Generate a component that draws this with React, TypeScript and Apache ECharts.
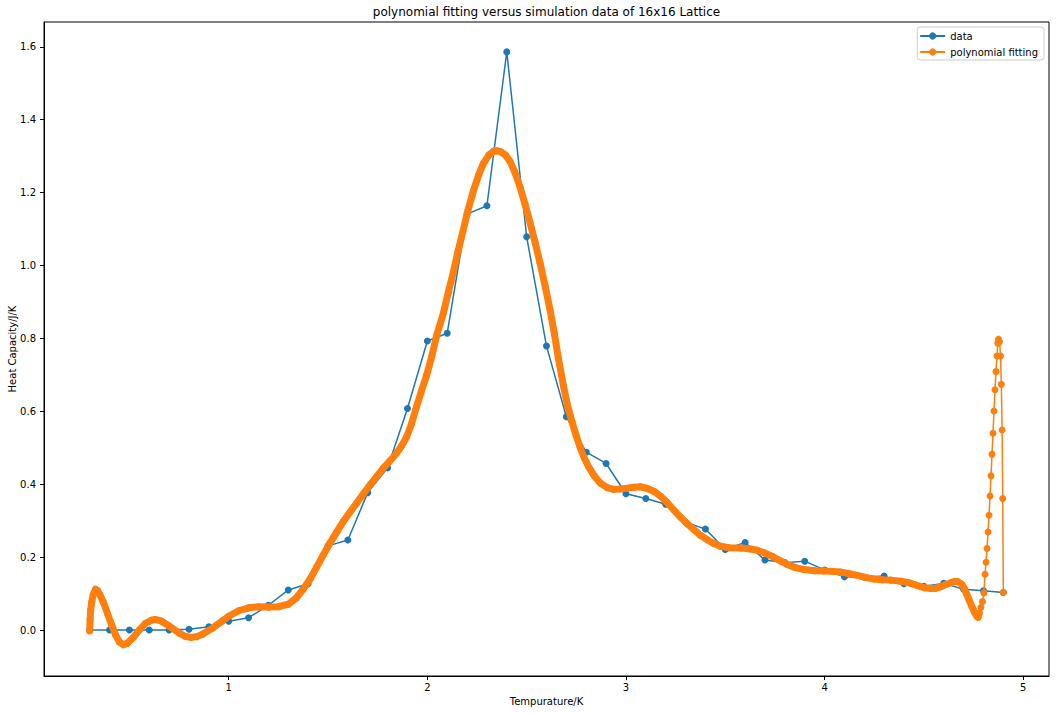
import React, { useEffect, useRef } from "react";
import * as echarts from "echarts";

const dataX = [0.3, 0.4, 0.5, 0.6, 0.7, 0.8, 0.9, 1.0, 1.1, 1.2, 1.3, 1.4, 1.5, 1.6, 1.7, 1.8, 1.9, 2.0, 2.1, 2.2, 2.3, 2.4, 2.5, 2.6, 2.7, 2.8, 2.9, 3.0, 3.1, 3.2, 3.3, 3.4, 3.5, 3.6, 3.7, 3.8, 3.9, 4.0, 4.1, 4.2, 4.3, 4.4, 4.5, 4.6, 4.7, 4.8, 4.9];
const dataY = [0.0, 0.0, 0.0, 0.0, 0.0, 0.002, 0.009, 0.024, 0.034, 0.068, 0.110, 0.127, 0.231, 0.247, 0.377, 0.445, 0.608, 0.793, 0.814, 1.141, 1.164, 1.586, 1.079, 0.779, 0.585, 0.488, 0.457, 0.374, 0.361, 0.345, 0.296, 0.277, 0.221, 0.240, 0.192, 0.185, 0.189, 0.165, 0.146, 0.145, 0.148, 0.127, 0.120, 0.128, 0.112, 0.108, 0.103];

const fitX = [
  0.300, 0.302, 0.305, 0.310, 0.318, 0.330, 0.340, 0.350, 0.370, 0.390, 0.410, 0.430, 0.450, 0.470, 0.490, 0.520, 0.550, 0.580, 0.610, 0.630,
  0.660, 0.700, 0.750, 0.780, 0.810, 0.840, 0.870, 0.920, 0.970, 1.000, 1.050, 1.100, 1.150, 1.200, 1.250, 1.300, 1.340, 1.375, 1.410, 1.442,
  1.475, 1.509, 1.545, 1.576, 1.610, 1.644, 1.680, 1.711, 1.745, 1.778, 1.810, 1.845, 1.870, 1.896, 1.920, 1.946, 1.970, 1.997, 2.022, 2.047,
  2.081, 2.105, 2.131, 2.155, 2.181, 2.205, 2.232, 2.258, 2.282, 2.310, 2.335, 2.350, 2.370, 2.395, 2.417, 2.440, 2.467, 2.492, 2.518, 2.543,
  2.568, 2.593, 2.618, 2.640, 2.660, 2.686, 2.705, 2.728, 2.750, 2.770, 2.790, 2.812, 2.840, 2.871, 2.905, 2.938, 2.970, 3.005, 3.040, 3.073,
  3.105, 3.140, 3.175, 3.207, 3.240, 3.274, 3.310, 3.341, 3.375, 3.409, 3.440, 3.476, 3.520, 3.577, 3.620, 3.661, 3.700, 3.740, 3.780, 3.812,
  3.850, 3.896, 3.950, 3.997, 4.040, 4.081, 4.120, 4.165, 4.210, 4.249, 4.290, 4.333, 4.384, 4.430, 4.468, 4.505, 4.535, 4.560, 4.586, 4.610,
  4.636, 4.655, 4.670, 4.690, 4.704, 4.716, 4.728, 4.742, 4.754, 4.765, 4.773,
  4.779, 4.787, 4.795, 4.802, 4.808, 4.813, 4.818, 4.823, 4.828, 4.833, 4.838, 4.843, 4.848, 4.853, 4.858, 4.863, 4.868, 4.872, 4.876, 4.881,
  4.886, 4.890, 4.894, 4.897, 4.900
];
const fitY = [
  -0.002, 0.029, 0.055, 0.076, 0.098, 0.112, 0.108, 0.098, 0.075, 0.045, 0.015, -0.013, -0.033, -0.040, -0.036, -0.020, 0.000, 0.018, 0.027, 0.029,
  0.025, 0.011, -0.008, -0.017, -0.020, -0.018, -0.011, 0.006, 0.026, 0.038, 0.053, 0.061, 0.064, 0.063, 0.064, 0.071, 0.088, 0.112, 0.140, 0.172,
  0.205, 0.238, 0.270, 0.297, 0.323, 0.348, 0.375, 0.398, 0.421, 0.444, 0.463, 0.485, 0.505, 0.530, 0.565, 0.613, 0.655, 0.700, 0.750, 0.808,
  0.870, 0.925, 0.982, 1.040, 1.098, 1.152, 1.205, 1.248, 1.280, 1.303, 1.314, 1.315, 1.312, 1.302, 1.285, 1.257, 1.215, 1.168, 1.116, 1.062,
  1.006, 0.944, 0.878, 0.812, 0.745, 0.668, 0.618, 0.572, 0.532, 0.500, 0.472, 0.448, 0.423, 0.403, 0.391, 0.386, 0.387, 0.389, 0.392, 0.393,
  0.389, 0.381, 0.367, 0.350, 0.330, 0.310, 0.291, 0.276, 0.260, 0.248, 0.238, 0.230, 0.226, 0.225, 0.223, 0.219, 0.211, 0.201, 0.189, 0.180,
  0.172, 0.166, 0.163, 0.162, 0.161, 0.159, 0.155, 0.150, 0.144, 0.140, 0.138, 0.137, 0.134, 0.129, 0.122, 0.116, 0.114, 0.115, 0.119, 0.125,
  0.130, 0.133, 0.133, 0.126, 0.114, 0.098, 0.082, 0.064, 0.050, 0.039, 0.035,
  0.046, 0.062, 0.078, 0.102, 0.153, 0.186, 0.224, 0.269, 0.315, 0.368, 0.423, 0.482, 0.540, 0.601, 0.659, 0.709, 0.752, 0.787, 0.798, 0.791,
  0.752, 0.674, 0.549, 0.361, 0.103
];

const xTicks = [1, 2, 3, 4, 5];
const yTicks = [0, 0.2, 0.4, 0.6, 0.8, 1.0, 1.2, 1.4, 1.6];

const TITLE = "polynomial fitting versus simulation data of 16x16 Lattice";
const X_NAME = "Tempurature/K";
const Y_NAME = "Heat Capacity/J/K";
const FONT = "DejaVu Sans";

export default function App() {
  const ref = useRef<HTMLDivElement>(null);
  useEffect(() => {
    document.body.style.margin = "0";
    const chart = echarts.init(ref.current!, null, { renderer: "svg" });
    const dataPts = dataX.map((x, i) => [x, dataY[i]]);
    const fitPts = fitX.map((x, i) => [x, fitY[i]]);
    const bandPts = fitPts.filter((p) => p[0] <= 4.78);
    chart.setOption({
      animation: false,
      backgroundColor: "#fff",
      textStyle: { fontFamily: FONT },
      graphic: [
        {
          type: "text",
          x: 546.5,
          y: 12,
          style: {
            text: TITLE,
            fontSize: 12,
            fontFamily: FONT,
            fill: "#000",
            align: "center",
            verticalAlign: "middle",
          },
        },
      ],
      grid: {
        left: 44,
        right: 10,
        top: 22,
        bottom: 37,
        outerBoundsMode: "none",
        containLabel: false,
        show: true,
        borderColor: "#000",
        borderWidth: 1,
        backgroundColor: "#fff",
      },
      legend: {
        data: ["data", "polynomial fitting"],
        orient: "vertical",
        right: 15,
        top: 27,
        itemWidth: 25,
        itemHeight: 9,
        itemGap: 6,
        padding: [4, 6, 3, 2],
        borderColor: "#cccccc",
        borderWidth: 1,
        borderRadius: 3,
        backgroundColor: "#ffffff",
        textStyle: { fontSize: 10, fontFamily: FONT, color: "#000" },
      },
      xAxis: {
        type: "value",
        min: 0.07,
        max: 5.13,
        name: X_NAME,
        nameLocation: "middle",
        nameGap: 20,
        nameMoveOverlap: false,
        nameTextStyle: { fontSize: 10, fontFamily: FONT, color: "#000" },
        axisLine: { show: true, onZero: false, lineStyle: { color: "#000", width: 1 } },
        axisTick: { show: true, customValues: xTicks, length: 4, lineStyle: { color: "#000" } },
        axisLabel: {
          customValues: xTicks,
          margin: 6,
          fontSize: 10,
          fontFamily: FONT,
          color: "#000",
          formatter: (v: number) => String(v),
        },
        splitLine: { show: false },
      },
      yAxis: {
        type: "value",
        min: -0.126,
        max: 1.668,
        name: Y_NAME,
        nameLocation: "middle",
        nameGap: 27,
        nameMoveOverlap: false,
        nameTextStyle: { fontSize: 10, fontFamily: FONT, color: "#000" },
        axisLine: { show: true, onZero: false, lineStyle: { color: "#000", width: 1 } },
        axisTick: { show: true, customValues: yTicks, length: 4, lineStyle: { color: "#000" } },
        axisLabel: {
          customValues: yTicks,
          margin: 8,
          fontSize: 10,
          fontFamily: FONT,
          color: "#000",
          formatter: (v: number) => v.toFixed(1),
        },
        splitLine: { show: false },
      },
      series: [
        {
          name: "data",
          type: "line",
          data: dataPts,
          symbol: "circle",
          symbolSize: 7,
          showAllSymbol: true,
          color: "#1f77b4",
          itemStyle: { color: "#1f77b4" },
          lineStyle: { color: "#1f77b4", width: 1.5 },
          z: 2,
        },
        {
          name: "fit band",
          type: "line",
          data: bandPts,
          showSymbol: false,
          symbol: "none",
          color: "#ff7f0e",
          lineStyle: { color: "#ff7f0e", width: 7, cap: "round", join: "round" },
          z: 3,
          silent: true,
        },
        {
          name: "polynomial fitting",
          type: "line",
          data: fitPts,
          symbol: "circle",
          symbolSize: 7,
          showAllSymbol: true,
          color: "#ff7f0e",
          itemStyle: { color: "#ff7f0e" },
          lineStyle: { color: "#ff7f0e", width: 1.5 },
          z: 4,
        },
      ],
    });
    return () => chart.dispose();
  }, []);
  return <div ref={ref} style={{ width: 1059, height: 713 }} />;
}
